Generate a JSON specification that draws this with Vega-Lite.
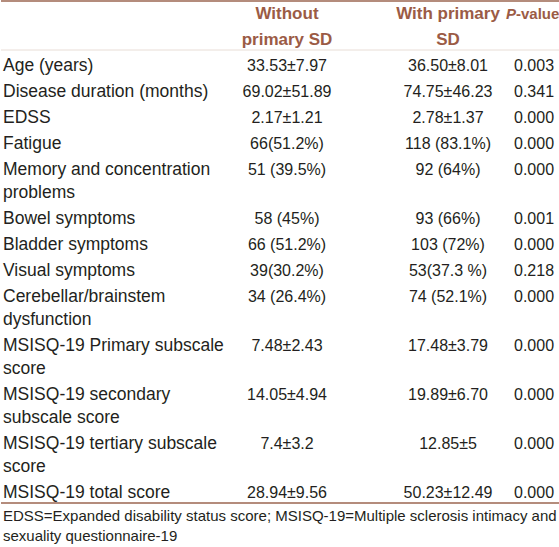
{
  "$schema": "https://vega.github.io/schema/vega-lite/v6.json",
  "width": 559,
  "height": 505,
  "padding": 0,
  "autosize": {"type": "pad"},
  "background": "white",
  "config": {"view": {"stroke": null}},
  "title": {
    "text": ["EDSS=Expanded disability status score; MSISQ-19=Multiple sclerosis intimacy and", "sexuality questionnaire-19"],
    "orient": "bottom",
    "anchor": "start",
    "frame": "group",
    "font": "Liberation Sans",
    "fontSize": 15,
    "fontWeight": "normal",
    "color": "#231f20",
    "lineHeight": 20,
    "offset": 4,
    "dx": 2
  },
  "datasets": {
    "cells": [
      {"row": 0, "cont": 0, "col": 1, "part": "head", "text": "Without"},
      {"row": 0, "cont": 0, "col": 2, "part": "head", "text": "With primary"},
      {"row": 0, "cont": 0, "col": 3, "part": "headP", "text": "P"},
      {"row": 0, "cont": 0, "col": 3, "part": "headV", "text": "-value"},
      {"row": 0, "cont": 1, "col": 1, "part": "head", "text": "primary SD"},
      {"row": 0, "cont": 1, "col": 2, "part": "head", "text": "SD"},
      {"row": 1, "cont": 1, "col": 0, "part": "body", "text": "Age (years)"},
      {"row": 1, "cont": 1, "col": 1, "part": "body", "text": "33.53±7.97"},
      {"row": 1, "cont": 1, "col": 2, "part": "body", "text": "36.50±8.01"},
      {"row": 1, "cont": 1, "col": 4, "part": "body", "text": "0.003"},
      {"row": 2, "cont": 1, "col": 0, "part": "body", "text": "Disease duration (months)"},
      {"row": 2, "cont": 1, "col": 1, "part": "body", "text": "69.02±51.89"},
      {"row": 2, "cont": 1, "col": 2, "part": "body", "text": "74.75±46.23"},
      {"row": 2, "cont": 1, "col": 4, "part": "body", "text": "0.341"},
      {"row": 3, "cont": 1, "col": 0, "part": "body", "text": "EDSS"},
      {"row": 3, "cont": 1, "col": 1, "part": "body", "text": "2.17±1.21"},
      {"row": 3, "cont": 1, "col": 2, "part": "body", "text": "2.78±1.37"},
      {"row": 3, "cont": 1, "col": 4, "part": "body", "text": "0.000"},
      {"row": 4, "cont": 1, "col": 0, "part": "body", "text": "Fatigue"},
      {"row": 4, "cont": 1, "col": 1, "part": "body", "text": "66(51.2%)"},
      {"row": 4, "cont": 1, "col": 2, "part": "body", "text": "118 (83.1%)"},
      {"row": 4, "cont": 1, "col": 4, "part": "body", "text": "0.000"},
      {"row": 5, "cont": 1, "col": 0, "part": "body", "text": "Memory and concentration"},
      {"row": 5, "cont": 2, "col": 0, "part": "body", "text": "problems"},
      {"row": 5, "cont": 1, "col": 1, "part": "body", "text": "51 (39.5%)"},
      {"row": 5, "cont": 1, "col": 2, "part": "body", "text": "92 (64%)"},
      {"row": 5, "cont": 1, "col": 4, "part": "body", "text": "0.000"},
      {"row": 6, "cont": 2, "col": 0, "part": "body", "text": "Bowel symptoms"},
      {"row": 6, "cont": 2, "col": 1, "part": "body", "text": "58 (45%)"},
      {"row": 6, "cont": 2, "col": 2, "part": "body", "text": "93 (66%)"},
      {"row": 6, "cont": 2, "col": 4, "part": "body", "text": "0.001"},
      {"row": 7, "cont": 2, "col": 0, "part": "body", "text": "Bladder symptoms"},
      {"row": 7, "cont": 2, "col": 1, "part": "body", "text": "66 (51.2%)"},
      {"row": 7, "cont": 2, "col": 2, "part": "body", "text": "103 (72%)"},
      {"row": 7, "cont": 2, "col": 4, "part": "body", "text": "0.000"},
      {"row": 8, "cont": 2, "col": 0, "part": "body", "text": "Visual symptoms"},
      {"row": 8, "cont": 2, "col": 1, "part": "body", "text": "39(30.2%)"},
      {"row": 8, "cont": 2, "col": 2, "part": "body", "text": "53(37.3 %)"},
      {"row": 8, "cont": 2, "col": 4, "part": "body", "text": "0.218"},
      {"row": 9, "cont": 2, "col": 0, "part": "body", "text": "Cerebellar/brainstem"},
      {"row": 9, "cont": 3, "col": 0, "part": "body", "text": "dysfunction"},
      {"row": 9, "cont": 2, "col": 1, "part": "body", "text": "34 (26.4%)"},
      {"row": 9, "cont": 2, "col": 2, "part": "body", "text": "74 (52.1%)"},
      {"row": 9, "cont": 2, "col": 4, "part": "body", "text": "0.000"},
      {"row": 10, "cont": 3, "col": 0, "part": "body", "text": "MSISQ-19 Primary subscale"},
      {"row": 10, "cont": 4, "col": 0, "part": "body", "text": "score"},
      {"row": 10, "cont": 3, "col": 1, "part": "body", "text": "7.48±2.43"},
      {"row": 10, "cont": 3, "col": 2, "part": "body", "text": "17.48±3.79"},
      {"row": 10, "cont": 3, "col": 4, "part": "body", "text": "0.000"},
      {"row": 11, "cont": 4, "col": 0, "part": "body", "text": "MSISQ-19 secondary"},
      {"row": 11, "cont": 5, "col": 0, "part": "body", "text": "subscale score"},
      {"row": 11, "cont": 4, "col": 1, "part": "body", "text": "14.05±4.94"},
      {"row": 11, "cont": 4, "col": 2, "part": "body", "text": "19.89±6.70"},
      {"row": 11, "cont": 4, "col": 4, "part": "body", "text": "0.000"},
      {"row": 12, "cont": 5, "col": 0, "part": "body", "text": "MSISQ-19 tertiary subscale"},
      {"row": 12, "cont": 6, "col": 0, "part": "body", "text": "score"},
      {"row": 12, "cont": 5, "col": 1, "part": "body", "text": "7.4±3.2"},
      {"row": 12, "cont": 5, "col": 2, "part": "body", "text": "12.85±5"},
      {"row": 12, "cont": 5, "col": 4, "part": "body", "text": "0.000"},
      {"row": 13, "cont": 6, "col": 0, "part": "body", "text": "MSISQ-19 total score"},
      {"row": 13, "cont": 6, "col": 1, "part": "body", "text": "28.94±9.56"},
      {"row": 13, "cont": 6, "col": 2, "part": "body", "text": "50.23±12.49"},
      {"row": 13, "cont": 6, "col": 4, "part": "body", "text": "0.000"}
    ],
    "rules": [
      {"row": 0, "cont": 0, "kind": "frame"},
      {"row": 1, "cont": 1, "kind": "head"},
      {"row": 14, "cont": 6, "kind": "frame"}
    ]
  },
  "encoding": {
    "y": {"field": "row", "type": "ordinal", "axis": null,
          "scale": {"type": "point", "padding": 0, "domain": [0,1,2,3,4,5,6,7,8,9,10,11,12,13,14], "range": [1, 365]}},
    "yOffset": {"field": "cont", "type": "quantitative",
          "scale": {"domain": [0, 6], "range": [0, 138], "zero": false, "nice": false}}
  },
  "layer": [
    {
      "data": {"name": "rules"},
      "transform": [{"filter": "datum.kind === 'frame'"}],
      "mark": {"type": "rule", "color": "#9b6650", "strokeWidth": 1.5}
    },
    {
      "data": {"name": "rules"},
      "transform": [{"filter": "datum.kind === 'head'"}],
      "mark": {"type": "rule", "color": "#e2d4cc", "strokeWidth": 0.8}
    },
    {
      "data": {"name": "cells"},
      "transform": [{"filter": "datum.part === 'body' && datum.col === 0"}],
      "mark": {"type": "text", "align": "left", "baseline": "alphabetic", "dy": 21, "font": "Liberation Sans", "fontSize": 17.5, "color": "#231f20"},
      "encoding": {
        "x": {"field": "col", "type": "quantitative", "axis": null, "scale": {"domain": [0,1,2,3,4], "range": [2,286,447,515,533], "zero": false, "nice": false}},
        "text": {"field": "text"}
      }
    },
    {
      "data": {"name": "cells"},
      "transform": [{"filter": "datum.part === 'body' && datum.col > 0"}],
      "mark": {"type": "text", "align": "center", "baseline": "alphabetic", "dy": 21, "font": "Liberation Sans", "fontSize": 16, "color": "#231f20"},
      "encoding": {
        "x": {"field": "col", "type": "quantitative"},
        "text": {"field": "text"}
      }
    },
    {
      "data": {"name": "cells"},
      "transform": [{"filter": "datum.part === 'head' && datum.cont === 0"}],
      "mark": {"type": "text", "align": "center", "baseline": "alphabetic", "dy": 17.5, "font": "Liberation Sans", "fontSize": 17, "fontWeight": "bold", "color": "#9b5b45"},
      "encoding": {
        "x": {"field": "col", "type": "quantitative"},
        "text": {"field": "text"}
      }
    },
    {
      "data": {"name": "cells"},
      "transform": [{"filter": "datum.part === 'head' && datum.cont === 1"}],
      "mark": {"type": "text", "align": "center", "baseline": "alphabetic", "dy": 21.3, "font": "Liberation Sans", "fontSize": 17, "fontWeight": "bold", "color": "#9b5b45"},
      "encoding": {
        "x": {"field": "col", "type": "quantitative"},
        "text": {"field": "text"}
      }
    },
    {
      "data": {"name": "cells"},
      "transform": [{"filter": "datum.part === 'headP'"}],
      "mark": {"type": "text", "align": "right", "baseline": "alphabetic", "dy": 17.5, "font": "Liberation Sans", "fontSize": 15, "fontWeight": "bold", "fontStyle": "italic", "color": "#9b5b45"},
      "encoding": {
        "x": {"field": "col", "type": "quantitative"},
        "text": {"field": "text"}
      }
    },
    {
      "data": {"name": "cells"},
      "transform": [{"filter": "datum.part === 'headV'"}],
      "mark": {"type": "text", "align": "left", "baseline": "alphabetic", "dy": 17.5, "font": "Liberation Sans", "fontSize": 15, "fontWeight": "bold", "color": "#9b5b45"},
      "encoding": {
        "x": {"field": "col", "type": "quantitative"},
        "text": {"field": "text"}
      }
    }
  ]
}
